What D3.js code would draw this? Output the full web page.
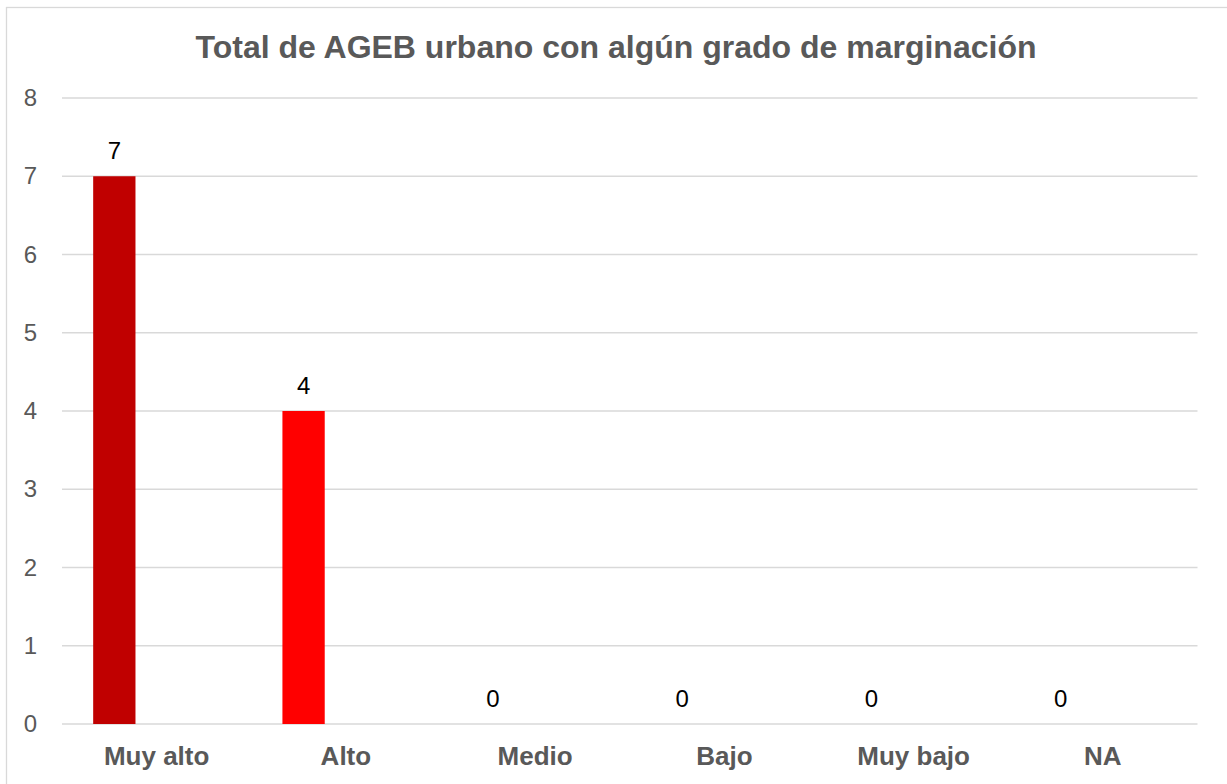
<!DOCTYPE html>
<html>
<head>
<meta charset="utf-8">
<script src="https://cdn.jsdelivr.net/npm/d3@7"></script>
<style>
  body { margin: 0; background: #fff; }
  #chart { width: 1227px; height: 784px; }
  text { font-family: "Liberation Sans", Arial, sans-serif; }
</style>
</head>
<body>
<div id="chart"></div>
<script>
// data
const categories = ["Muy alto", "Alto", "Medio", "Bajo", "Muy bajo", "NA"];
const values = [7, 4, 0, 0, 0, 0];
const barColors = ["#C00000", "#FF0000", "#FF0000", "#FF0000", "#FF0000", "#FF0000"];
// each cluster has three slots, only the first one holds a bar
const slots = ["total", "empty1", "empty2"];
const yTicks = [0, 1, 2, 3, 4, 5, 6, 7, 8];
const title = "Total de AGEB urbano con algún grado de marginación";

const width = 1227;
const height = 784;
const margin = {top: 98, left: 62, right: 29.5, bottom: 60};

const svg = d3.select("#chart")
    .append("svg")
    .attr("width", width)
    .attr("height", height);

// chart area border
svg.append("rect")
    .attr("x", 6.5)
    .attr("y", 7.5)
    .attr("width", width)
    .attr("height", height)
    .attr("fill", "none")
    .attr("stroke", "#d9d9d9")
    .attr("stroke-width", 1.3);

const xScale = d3.scaleBand()
    .domain(categories)
    .range([margin.left, width - margin.right]);

const slotScale = d3.scaleBand()
    .domain(slots)
    .range([0, xScale.bandwidth()])
    .paddingOuter(0.737);

const yScale = d3.scaleLinear()
    .domain([0, 8])
    .range([height - margin.bottom, margin.top]);

// gridlines
svg.append("g")
    .selectAll("line")
    .data(yTicks)
    .enter()
    .append("line")
        .attr("x1", margin.left)
        .attr("x2", width - margin.right)
        .attr("y1", d => yScale(d))
        .attr("y2", d => yScale(d))
        .attr("stroke", "#d9d9d9")
        .attr("stroke-width", 1.5);

// y axis labels
const yAxis = svg.append("g")
    .attr("transform", `translate(${margin.left},0)`)
    .call(d3.axisLeft(yScale).tickValues(yTicks).tickSize(0).tickPadding(25));
yAxis.select(".domain").remove();
yAxis.selectAll("text")
    .attr("fill", "#595959")
    .style("font-family", "'Liberation Sans', Arial, sans-serif")
    .style("font-size", "24px");

// x axis labels
const xAxis = svg.append("g")
    .attr("transform", `translate(0,${height - margin.bottom})`)
    .call(d3.axisBottom(xScale).tickSize(0).tickPadding(23));
xAxis.select(".domain").remove();
xAxis.selectAll("text")
    .attr("fill", "#595959")
    .style("font-family", "'Liberation Sans', Arial, sans-serif")
    .style("font-size", "26px")
    .style("font-weight", "bold");

// bars
const rows = categories.map((c, i) => ({cat: c, value: values[i], color: barColors[i]}));

svg.selectAll("rect.bar")
    .data(rows)
    .enter()
    .append("rect")
        .attr("class", "bar")
        .attr("x", d => xScale(d.cat) + slotScale("total"))
        .attr("y", d => yScale(d.value))
        .attr("width", slotScale.bandwidth())
        .attr("height", d => yScale(0) - yScale(d.value))
        .attr("fill", d => d.color);

// data labels
svg.selectAll("text.label")
    .data(rows)
    .enter()
    .append("text")
        .attr("class", "label")
        .attr("x", d => xScale(d.cat) + slotScale("total") + slotScale.bandwidth() / 2)
        .attr("y", d => yScale(d.value) - 17)
        .attr("text-anchor", "middle")
        .attr("fill", "#000")
        .style("font-size", "24px")
        .text(d => d.value);

// title
svg.append("text")
    .attr("x", 616)
    .attr("y", 58)
    .attr("text-anchor", "middle")
    .attr("fill", "#595959")
    .style("font-size", "32px")
    .style("font-weight", "bold")
    .text(title);
</script>
</body>
</html>
